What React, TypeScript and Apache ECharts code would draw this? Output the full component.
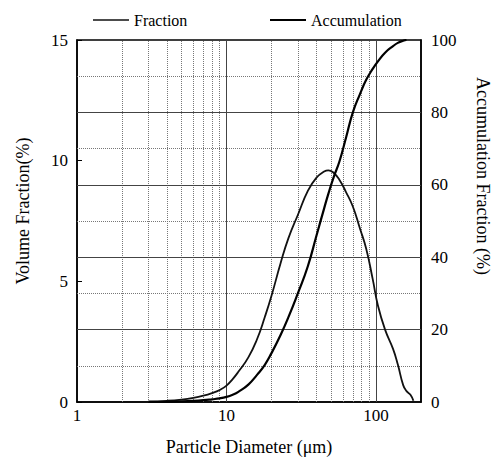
import React, { useEffect, useRef } from "react";
import * as echarts from "echarts";

const diameters = [3, 4, 5, 6, 7, 8, 9, 10, 11, 12, 14, 16, 18, 20, 23, 26, 30, 35, 40, 45, 48, 52, 57, 63, 70, 78, 86, 95, 103, 115, 130, 140, 152, 160, 170, 178];
const fraction = [0.02, 0.05, 0.1, 0.17, 0.26, 0.37, 0.5, 0.68, 0.95, 1.25, 1.85, 2.6, 3.5, 4.4, 5.75, 6.8, 7.75, 8.75, 9.3, 9.55, 9.6, 9.5, 9.2, 8.7, 8.1, 7.2, 6.35, 5.1, 4.0, 3.0, 2.2, 1.55, 0.7, 0.45, 0.3, 0.05];
const accumulation = [0.0, 0.05, 0.15, 0.3, 0.5, 0.75, 1.0, 1.4, 2.0, 2.8, 4.8, 7.5, 10.2, 13.5, 18.5, 23.5, 30, 37.5, 46, 53.5, 57.5, 62, 66.5, 73, 80, 85, 89, 92, 94.1, 96.5, 98.3, 99.2, 99.8, 100, null, null];

const xTickLabels = [1, 10, 100];
const xMajorGrid = [10, 100];
const xMinorGrid = [2, 3, 4, 5, 6, 7, 8, 9, 20, 30, 40, 50, 60, 70, 80, 90];
const yMajorGrid = [20, 40, 60, 80];
const yMinorGrid = [10, 30, 50, 70, 90];

const FONT = "'Liberation Serif', 'Times New Roman', serif";

export default function App() {
  const ref = useRef<HTMLDivElement>(null);
  useEffect(() => {
    if (!ref.current) return;
    const chart = echarts.init(ref.current, null, { renderer: "svg" });
    const solid = { color: "#444", width: 1, type: "solid" };
    const dotted = { color: "#777", width: 1, type: "dotted" };
    const gridLines = [
      ...xMajorGrid.map((v) => ({ xAxis: v, lineStyle: solid })),
      ...xMinorGrid.map((v) => ({ xAxis: v, lineStyle: dotted })),
    ];
    const hLines = [
      ...yMajorGrid.map((v) => ({ yAxis: v, lineStyle: solid })),
      ...yMinorGrid.map((v) => ({ yAxis: v, lineStyle: dotted })),
    ];
    chart.setOption({
      animation: false,
      backgroundColor: "#fff",
      textStyle: { fontFamily: FONT, color: "#000" },
      grid: {
        left: 77,
        right: 77,
        top: 40,
        bottom: 57,
        containLabel: false,
        outerBoundsMode: "none",
        show: true,
        borderColor: "#000",
        borderWidth: 1.5,
        backgroundColor: "transparent",
      },
      legend: [
        {
          data: ["Fraction"],
          left: 93,
          top: 12,
          padding: 0,
          icon: "rect",
          itemWidth: 36,
          itemHeight: 1.5,
          textStyle: { fontFamily: FONT, fontSize: 16, color: "#000" },
        },
        {
          data: ["Accumulation"],
          left: 270,
          top: 12,
          padding: 0,
          icon: "rect",
          itemWidth: 36,
          itemHeight: 2,
          textStyle: { fontFamily: FONT, fontSize: 16, color: "#000" },
        },
      ],
      xAxis: {
        type: "log",
        logBase: 10,
        min: 1,
        max: 200,
        name: "Particle Diameter (\u03bcm)",
        nameLocation: "middle",
        nameGap: 36,
        nameTextStyle: { fontFamily: FONT, fontSize: 18, color: "#000" },
        axisLine: { show: true, lineStyle: { color: "#000", width: 1.5 } },
        axisTick: { show: false },
        splitLine: { show: false },
        axisLabel: {
          fontFamily: FONT,
          fontSize: 17,
          color: "#000",
          margin: 5,
          formatter: (v: number) => {
            const r = Math.round(v);
            return xTickLabels.includes(r) && Math.abs(v - r) < 1e-6 ? String(r) : "";
          },
        },
      },
      yAxis: [
        {
          type: "value",
          min: 0,
          max: 15,
          interval: 5,
          name: "Volume Fraction(%)",
          nameLocation: "middle",
          nameGap: 45,
          nameRotate: 90,
          nameTextStyle: { fontFamily: FONT, fontSize: 18, color: "#000", padding: [0, 0, 0, 20] },
          axisLine: { show: true, lineStyle: { color: "#000", width: 1.5 } },
          axisTick: { show: true, inside: true, length: 5, lineStyle: { color: "#000" } },
          splitLine: { show: false },
          axisLabel: { fontFamily: FONT, fontSize: 17, color: "#000", margin: 9 },
        },
        {
          type: "value",
          min: 0,
          max: 100,
          interval: 20,
          position: "right",
          name: "Accumulation Fraction (%)",
          nameLocation: "middle",
          nameGap: 53,
          nameRotate: -90,
          nameTextStyle: { fontFamily: FONT, fontSize: 18, color: "#000", padding: [0, 90, 0, 0] },
          axisLine: { show: true, lineStyle: { color: "#000", width: 1.5 } },
          axisTick: { show: false },
          splitLine: { show: false },
          axisLabel: { fontFamily: FONT, fontSize: 17, color: "#000", margin: 10 },
        },
      ],
      series: [
        {
          name: "gridX",
          type: "line",
          data: [],
          yAxisIndex: 0,
          z: 1,
          silent: true,
          markLine: {
            silent: true,
            symbol: "none",
            z: 1,
            label: { show: false },
            emphasis: { disabled: true },
            data: gridLines,
          },
        },
        {
          name: "gridY",
          type: "line",
          data: [],
          yAxisIndex: 1,
          z: 1,
          silent: true,
          markLine: {
            silent: true,
            symbol: "none",
            z: 1,
            label: { show: false },
            emphasis: { disabled: true },
            data: hLines,
          },
        },
        {
          name: "Fraction",
          type: "line",
          yAxisIndex: 0,
          data: diameters.map((d, i) => [d, fraction[i]]),
          showSymbol: false,
          smooth: 0.5,
          z: 5,
          itemStyle: { color: "#111" },
          lineStyle: { color: "#111", width: 1.8 },
        },
        {
          name: "Accumulation",
          type: "line",
          yAxisIndex: 1,
          data: diameters
            .map((d, i) => [d, accumulation[i]])
            .filter((p) => p[1] !== null),
          showSymbol: false,
          smooth: 0.5,
          z: 5,
          itemStyle: { color: "#000" },
          lineStyle: { color: "#000", width: 2.2 },
        },
      ],
    });
    return () => chart.dispose();
  }, []);
  return (
    <div
      ref={ref}
      style={{ position: "absolute", left: 0, top: 0, width: 498, height: 459 }}
    />
  );
}
